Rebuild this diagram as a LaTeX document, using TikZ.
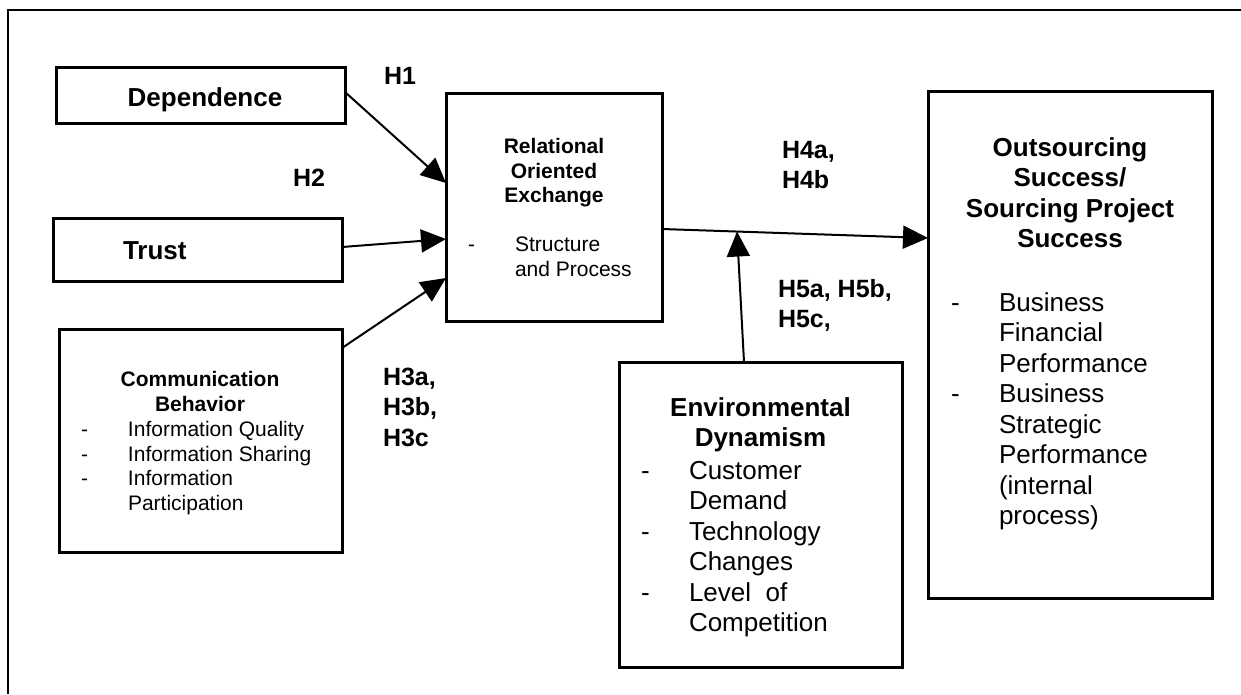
\documentclass[tikz,border=0pt]{standalone}
\usepackage{fontspec}
\setmainfont{Liberation Sans}
\usetikzlibrary{arrows.meta,calc}
\newcommand\FntBig{\fontsize{26}{30.5}\selectfont}
\newcommand\FntSml{\fontsize{21}{24.5}\selectfont}
\newcommand\FntHyp{\fontsize{25}{30.5}\selectfont\bfseries}
\tikzset{
  box/.style={draw, line width=3pt, inner sep=0pt, outer sep=0pt},
  txt/.style={inner sep=0pt, outer sep=0pt},
  conn/.style={line width=2pt, -{Triangle[length=25pt,width=23pt]}},
  plainline/.style={line width=2pt}
}
\begin{document}
\begin{tikzpicture}[x=1pt,y=-1pt]
\useasboundingbox (0,0) rectangle (1241,694);
% outer frame (top and left only)
\draw[line width=2pt] (7.5,694) -- (7.5,10) -- (1241,10);

% boxes
\node[box, minimum width=289pt, minimum height=56pt] (dep) at (200.5,95) {};
\node[box, minimum width=289pt, minimum height=63pt] (tru) at (197.5,249.5) {};
\node[box, minimum width=283pt, minimum height=223pt] (com) at (200.5,440.5) {};
\node[box, minimum width=216pt, minimum height=228pt] (rel) at (554,207) {};
\node[box, minimum width=283pt, minimum height=305pt] (env) at (760.5,514.5) {};
\node[box, minimum width=284pt, minimum height=507pt] (out) at (1070,344.5) {};

% box texts
\node[txt, anchor=base] (depT) at (205,106) {\FntBig\bfseries Dependence};
\node[txt, anchor=base west] (truT) at (123,259) {\FntBig\bfseries Trust};

\node[txt, anchor=base] (relH) at (554,153.5) {\FntSml\bfseries\begin{tabular}[t]{@{}c@{}}Relational\\Oriented\\Exchange\end{tabular}};
\node[txt, anchor=base west] (relL) at (468,251.5) {\FntSml\begin{tabular}[t]{@{}p{47pt}@{}l@{}}-&Structure\\&and Process\end{tabular}};

\node[txt, anchor=base] (comH) at (200,386.5) {\FntSml\bfseries\begin{tabular}[t]{@{}c@{}}Communication\\Behavior\end{tabular}};
\node[txt, anchor=base west] (comL) at (81,436.5) {\FntSml\begin{tabular}[t]{@{}p{47pt}@{}l@{}}-&Information Quality\\-&Information Sharing\\-&Information\\&Participation\end{tabular}};

\node[txt, anchor=base] (envH) at (760.5,416) {\FntBig\bfseries\begin{tabular}[t]{@{}c@{}}Environmental\\Dynamism\end{tabular}};
\node[txt, anchor=base west] (envL) at (641,479) {\FntBig\begin{tabular}[t]{@{}p{48pt}@{}l@{}}-&Customer\\&Demand\\-&Technology\\&Changes\\-&Level\ \ of\\&Competition\end{tabular}};

\node[txt, anchor=base] (outH) at (1070,156) {\FntBig\bfseries\begin{tabular}[t]{@{}c@{}}Outsourcing\\Success/\\Sourcing Project\\Success\end{tabular}};
\node[txt, anchor=base west] (outL) at (951,311) {\FntBig\begin{tabular}[t]{@{}p{48pt}@{}l@{}}-&Business\\&Financial\\&Performance\\-&Business\\&Strategic\\&Performance\\&(internal\\&process)\end{tabular}};

% hypothesis labels
\node[txt, anchor=base] (h1) at (400,84) {\FntHyp H1};
\node[txt, anchor=base] (h2) at (309,186) {\FntHyp H2};
\node[txt, anchor=base west] (h3) at (383,385) {\FntHyp\begin{tabular}[t]{@{}l@{}}H3a,\\H3b,\\H3c\end{tabular}};
\node[txt, anchor=base west] (h4) at (782,158) {\FntHyp\begin{tabular}[t]{@{}l@{}}H4a,\\H4b\end{tabular}};
\node[txt, anchor=base west] (h5) at (778,297) {\FntHyp\begin{tabular}[t]{@{}l@{}}H5a, H5b,\\H5c,\end{tabular}};

% connectors
\draw[conn] ([yshift=3pt]dep.east) -- ([yshift=24pt]rel.west);
\draw[conn] ([yshift=2.5pt]tru.east) -- ([yshift=-32pt]rel.west);
\draw[conn] ([yshift=-19pt]com.north east) -- ([yshift=-71pt]rel.west);
\coordinate (r1) at ([yshift=-22pt]rel.east);
\coordinate (o1) at ([yshift=-147pt]out.north west);
\draw[conn] (r1) -- (o1);
\coordinate (m) at ($(r1)!0.282!(o1)$);
\draw[conn] ([xshift=-16.5pt]env.north) -- (m);
\end{tikzpicture}
\end{document}
